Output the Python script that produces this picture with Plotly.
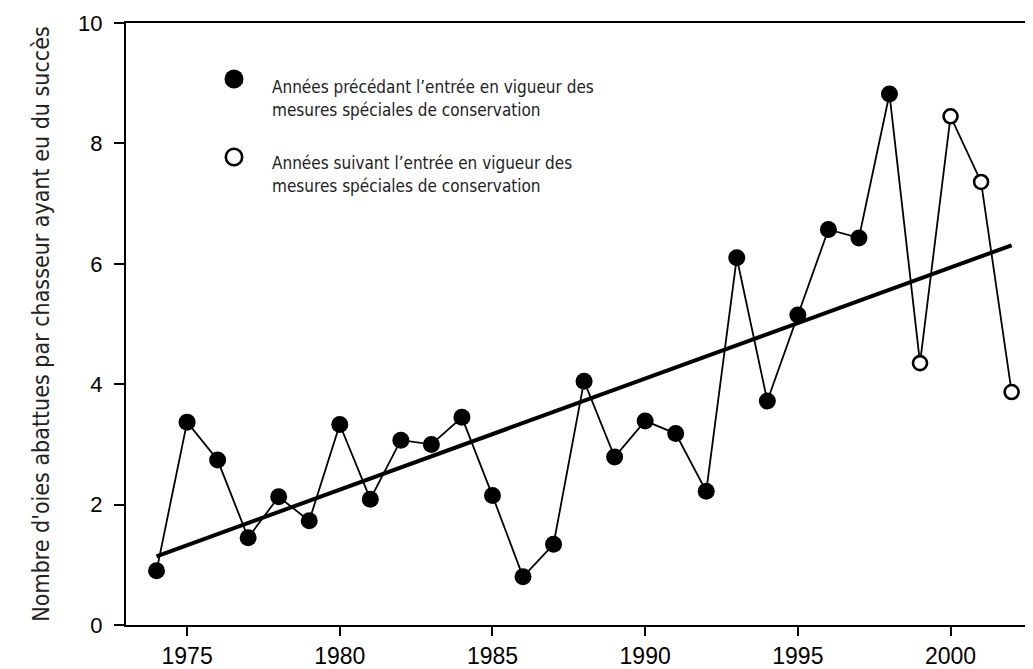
import numpy as np
import plotly.graph_objects as go

# ---- data ----
years_before = list(range(1974, 1999))
values_before = [0.90, 3.37, 2.74, 1.45, 2.13, 1.73, 3.33, 2.09, 3.07, 3.00,
                 3.45, 2.15, 0.80, 1.34, 4.05, 2.79, 3.39, 3.18, 2.22, 6.10,
                 3.72, 5.15, 6.57, 6.43, 8.82]
years_after = [1999, 2000, 2001, 2002]
values_after = [4.35, 8.45, 7.36, 3.87]

x_ticks = [1975, 1980, 1985, 1990, 1995, 2000]
y_ticks = [0, 2, 4, 6, 8, 10]

y_title = "Nombre d'oies abattues par chasseur ayant eu du succès"
legend_before = ["Années précédant l’entrée en vigueur des",
                 "mesures spéciales de conservation"]
legend_after = ["Années suivant l’entrée en vigueur des",
                "mesures spéciales de conservation"]

all_years = years_before + years_after
all_values = values_before + values_after

# linear trend fitted to the data
slope, intercept = np.polyfit(all_years, all_values, 1)
trend_x = [min(all_years), max(all_years)]
trend_y = [slope * x + intercept for x in trend_x]

COND = "DejaVu Sans Condensed, DejaVu Sans, sans-serif"
SANS = "Liberation Sans, Arial, Helvetica, sans-serif"

fig = go.Figure()
fig.add_trace(go.Scatter(x=all_years, y=all_values, mode="lines",
                         line=dict(color="black", width=1.8), hoverinfo="skip"))
fig.add_trace(go.Scatter(x=trend_x, y=trend_y, mode="lines",
                         line=dict(color="black", width=4), hoverinfo="skip"))
fig.add_trace(go.Scatter(x=years_before, y=values_before, mode="markers",
                         marker=dict(symbol="circle", size=17, color="black",
                                     line=dict(width=0))))
fig.add_trace(go.Scatter(x=years_after, y=values_after, mode="markers",
                         marker=dict(symbol="circle", size=14, color="white",
                                     line=dict(width=2.6, color="black"))))

# page body has an 8px margin: compensate so the plot lands where intended
OFF = 8
L, T, W, H = 126, 23, 907, 602   # plot area in page pixels
FIG_W, FIG_H = 1033 - OFF, 669 - OFF

def px(xp):
    return (xp - L) / W
def py(yp):
    return (T + H - yp) / H

shapes = [
    dict(type="circle", xref="paper", yref="paper", xsizemode="pixel", ysizemode="pixel",
         xanchor=px(234), yanchor=py(79), x0=-9.5, x1=9.5, y0=-9.5, y1=9.5,
         fillcolor="black", line=dict(width=0)),
    dict(type="circle", xref="paper", yref="paper", xsizemode="pixel", ysizemode="pixel",
         xanchor=px(234), yanchor=py(157), x0=-8.2, x1=8.2, y0=-8.2, y1=8.2,
         fillcolor="white", line=dict(width=2.6, color="black")),
]
annotations = []
for txt, yc in zip(legend_before + legend_after, [87, 110, 163, 186]):
    annotations.append(dict(text=txt, xref="paper", yref="paper", x=px(270), y=py(yc),
                            xanchor="left", yanchor="middle", showarrow=False,
                            font=dict(family=COND, size=17, color="#222")))

fig.update_layout(
    width=FIG_W, height=FIG_H,
    margin=dict(l=L - OFF, r=0, t=T - OFF, b=FIG_H - (T - OFF) - H, pad=0),
    plot_bgcolor="white", paper_bgcolor="white",
    showlegend=False,
    shapes=shapes, annotations=annotations,
    xaxis=dict(range=[1973, 2002.7], tickvals=x_ticks, ticks="outside", ticklen=9,
               tickwidth=2, tickcolor="black", showline=True, linewidth=2,
               linecolor="black", mirror=True, showgrid=False, zeroline=False,
               tickfont=dict(family=SANS, size=23, color="black")),
    yaxis=dict(range=[0, 10], tickvals=y_ticks, ticks="outside", ticklen=10,
               tickwidth=2, tickcolor="black", showline=True, linewidth=2,
               linecolor="black", showgrid=False, zeroline=False,
               ticklabelstandoff=7,
               tickfont=dict(family=SANS, size=22, color="black"),
               title=dict(text=y_title, standoff=22,
                          font=dict(family=COND, size=23, color="#222"))),
)

fig.write_html("out.html")
